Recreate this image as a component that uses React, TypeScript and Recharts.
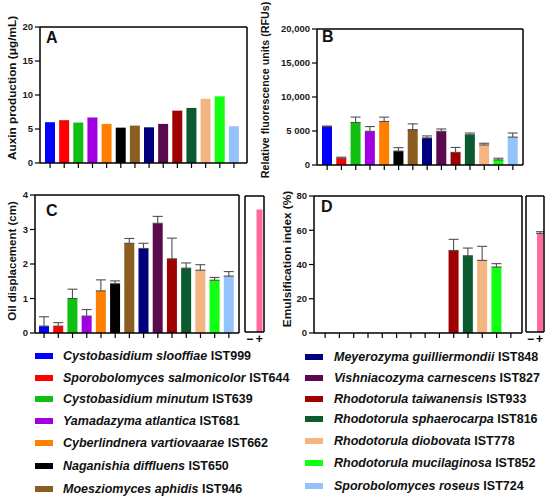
import React from 'react';
import { BarChart, Bar, XAxis, YAxis, Cell, ErrorBar } from 'recharts';

const species = [
  'Cystobasidium slooffiae',
  'Sporobolomyces salmonicolor',
  'Cystobasidium minutum',
  'Yamadazyma atlantica',
  'Cyberlindnera vartiovaarae',
  'Naganishia diffluens',
  'Moesziomyces aphidis',
  'Meyerozyma guilliermondii',
  'Vishniacozyma carnescens',
  'Rhodotorula taiwanensis',
  'Rhodotorula sphaerocarpa',
  'Rhodotorula diobovata',
  'Rhodotorula mucilaginosa',
  'Sporobolomyces roseus',
];
const ids = ['IST999', 'IST644', 'IST639', 'IST681', 'IST662', 'IST650', 'IST946', 'IST848', 'IST827', 'IST933', 'IST816', 'IST778', 'IST852', 'IST724'];
const colors = ['#0000FF', '#FF0000', '#10C010', '#A100E3', '#FF8000', '#000000', '#8C5D20', '#00007F', '#5C0A4E', '#A00000', '#0B5A30', '#F4B680', '#11FF11', '#94C2FA'];

const auxin = [6.0, 6.3, 5.95, 6.7, 5.75, 5.2, 5.5, 5.25, 5.75, 7.7, 8.1, 9.45, 9.8, 5.4];
const rfu = [5650, 1000, 6250, 4950, 6400, 2050, 5200, 3980, 4950, 1850, 4450, 2950, 750, 4100];
const rfuErr = [80, 150, 800, 700, 640, 500, 850, 300, 350, 730, 250, 250, 250, 600];
const oil = [0.2, 0.2, 1.0, 0.49, 1.22, 1.43, 2.6, 2.45, 3.18, 2.15, 1.88, 1.82, 1.53, 1.65];
const oilErr = [0.27, 0.1, 0.27, 0.19, 0.32, 0.08, 0.14, 0.15, 0.2, 0.6, 0.15, 0.16, 0.08, 0.13];
const emul = [0, 0, 0, 0, 0, 0, 0, 0, 0, 48.2, 45.1, 42.4, 38.5, 0];
const emulErr = [null, null, null, null, null, null, null, null, null, 6.5, 4.5, 8.2, 2.0, null];

const ctrlLabels = ['\u2212', '+'];
const oilCtrl = [0, 3.6];
const emulCtrl = [0, 58];
const emulCtrlErr = [null, 1];
const ctrlColor = '#FF6A98';

const ticksA = [0, 5, 10, 15, 20];
const ticksB = [0, 5000, 10000, 15000, 20000];
const tickLabelsB = ['0', '5 000', '10,000', '15,000', '20,000'];
const ticksC = [0, 1, 2, 3, 4];
const ticksD = [0, 20, 40, 60, 80];

const FONT = '"Liberation Sans", Arial, sans-serif';
const tickStyle = { fontSize: 9.5, fontWeight: 700, fill: '#1a1a1a', fontFamily: FONT };
const axisLine = { stroke: '#000', strokeWidth: 1.5 };
const tickLine = { stroke: '#000', strokeWidth: 1.2 };

type Row = { name: string; v: number; e: number | null };

const makeRows = (vals: number[], errs?: (number | null)[]): Row[] =>
  species.map((s, i) => ({ name: `${s} ${ids[i]}`, v: vals[i], e: errs ? errs[i] : null }));

const errKey = (d: Row) => (d.e == null ? null : [0, d.e]);

type PanelProps = {
  left: number; top: number; width: number; height: number;
  margin: { top: number; right: number; bottom: number; left: number };
  yWidth: number; xHeight: number;
  data: Row[]; domain: [number, number]; ticks: number[];
  tickFmt?: (v: number) => string;
  padding: { left: number; right: number };
  withErr: boolean;
};

// Box axes (top / right) are 1px thick; margins are reduced by 1 to keep the plot area in place.
function MainPanel(p: PanelProps) {
  const m = { ...p.margin, top: p.margin.top - 1, right: p.margin.right - 1 };
  return (
    <div style={{ position: 'absolute', left: p.left, top: p.top }}>
      <BarChart width={p.width} height={p.height} data={p.data} margin={m} barSize={10}>
        <XAxis
          dataKey="name"
          height={p.xHeight}
          interval={0}
          tickFormatter={() => ''}
          tickSize={5}
          axisLine={axisLine}
          tickLine={tickLine}
          padding={p.padding}
        />
        <XAxis xAxisId="top" dataKey="name" orientation="top" height={1} interval={0} tickFormatter={() => ''} tickLine={false} axisLine={axisLine} padding={p.padding} />
        <YAxis
          width={p.yWidth}
          domain={p.domain}
          ticks={p.ticks}
          allowDataOverflow
          tickSize={5}
          tickMargin={2}
          interval={0}
          tick={tickStyle}
          tickFormatter={p.tickFmt}
          axisLine={axisLine}
          tickLine={tickLine}
        />
        <YAxis yAxisId="right" orientation="right" width={1} domain={p.domain} ticks={p.ticks} tickFormatter={() => ''} tickLine={false} axisLine={axisLine} />
        <Bar dataKey="v" isAnimationActive={false}>
          {p.data.map((d, i) => (
            <Cell key={d.name} fill={colors[i]} />
          ))}
          {p.withErr && (
            <ErrorBar dataKey={errKey as any} width={5} stroke="#505050" strokeWidth={1.1} isAnimationActive={false} />
          )}
        </Bar>
      </BarChart>
    </div>
  );
}

type CtrlProps = {
  left: number; top: number; vals: number[]; errs?: (number | null)[]; domain: [number, number]; ticks: number[]; marginLeft: number;
};

function CtrlPanel(p: CtrlProps) {
  const data = ctrlLabels.map((n, i) => ({ name: n, v: p.vals[i], e: p.errs ? p.errs[i] : null }));
  return (
    <div style={{ position: 'absolute', left: p.left, top: p.top }}>
      <BarChart width={35} height={170} data={data} margin={{ top: 15, right: 5, bottom: 0, left: p.marginLeft - 1 }} barSize={6}>
        <XAxis
          dataKey="name"
          height={18}
          interval={0}
          tickSize={0}
          tickMargin={2}
          tickLine={false}
          axisLine={axisLine}
          tick={{ fontSize: 12, fontWeight: 700, fill: '#000', fontFamily: FONT }}
        />
        <XAxis xAxisId="top" dataKey="name" orientation="top" height={1} interval={0} tickFormatter={() => ''} tickLine={false} axisLine={axisLine} />
        <YAxis width={1} domain={p.domain} ticks={p.ticks} allowDataOverflow tickFormatter={() => ''} tickLine={false} axisLine={axisLine} />
        <YAxis yAxisId="right" orientation="right" width={1} domain={p.domain} ticks={p.ticks} tickFormatter={() => ''} tickLine={false} axisLine={axisLine} />
        <Bar dataKey="v" fill={ctrlColor} isAnimationActive={false}>
          {p.errs && (
            <ErrorBar dataKey={errKey as any} width={4} stroke="#505050" strokeWidth={1.1} isAnimationActive={false} />
          )}
        </Bar>
      </BarChart>
    </div>
  );
}

const legendLeftY = [356, 377.5, 399, 421, 443, 466, 489];
const legendRightY = [357, 378, 398.5, 419, 441, 463, 485.5];

function Legend() {
  return (
    <>
      {species.map((s, i) => {
        const isLeft = i < 7;
        const cy = isLeft ? legendLeftY[i] : legendRightY[i - 7];
        const sx = isLeft ? 35 : 305;
        const tx = isLeft ? 63 : 334;
        return (
          <React.Fragment key={s}>
            <div style={{ position: 'absolute', left: sx, top: cy - 3, width: 18, height: 6, background: colors[i] }} />
            <div
              style={{
                position: 'absolute', left: tx, top: cy - 8, height: 16, lineHeight: '16px',
                fontFamily: FONT, fontSize: 12.5, fontWeight: 700, color: '#111', whiteSpace: 'nowrap',
              }}
            >
              <i>{s}</i> {ids[i]}
            </div>
          </React.Fragment>
        );
      })}
    </>
  );
}

const titleStyle = { fontFamily: FONT, fontWeight: 700, fill: '#111' } as const;

function Titles() {
  const rot = (x: number, y: number) => `rotate(-90, ${x}, ${y})`;
  return (
    <svg width={550} height={503} style={{ position: 'absolute', left: 0, top: 0, pointerEvents: 'none' }}>
      <text x={12} y={88} transform={rot(12, 88)} textAnchor="middle" dominantBaseline="central" fontSize={11.8} style={titleStyle}>Auxin production (μg/mL)</text>
      <text x={265} y={90} transform={rot(265, 90)} textAnchor="middle" dominantBaseline="central" fontSize={10.7} style={titleStyle}>Relative fluorescence units (RFUs)</text>
      <text x={12} y={261} transform={rot(12, 261)} textAnchor="middle" dominantBaseline="central" fontSize={11.5} style={titleStyle}>Oil displacement (cm)</text>
      <text x={287} y={259} transform={rot(287, 259)} textAnchor="middle" dominantBaseline="central" fontSize={11.8} style={titleStyle}>Emulsification index (%)</text>
      <text x={46} y={43} fontSize={16} style={titleStyle}>A</text>
      <text x={322} y={42} fontSize={16} style={titleStyle}>B</text>
      <text x={46} y={216} fontSize={16} style={titleStyle}>C</text>
      <text x={321} y={212} fontSize={16} style={titleStyle}>D</text>
    </svg>
  );
}

export default function App() {
  return (
    <div style={{ position: 'absolute', left: 0, top: 0, width: 550, height: 503, background: '#fff', overflow: 'hidden' }}>
      <MainPanel
        left={0} top={0} width={260} height={175}
        margin={{ top: 27, right: 13, bottom: 0, left: 0 }}
        yWidth={40} xHeight={12}
        data={makeRows(auxin)} domain={[0, 20]} ticks={ticksA}
        padding={{ left: 3, right: 6 }} withErr={false}
      />
      <MainPanel
        left={260} top={0} width={270} height={177}
        margin={{ top: 29, right: 7, bottom: 0, left: 0 }}
        yWidth={57} xHeight={12}
        data={makeRows(rfu, rfuErr)} domain={[0, 20000]} ticks={ticksB}
        tickFmt={(v: number) => tickLabelsB[ticksB.indexOf(v)] ?? String(v)}
        padding={{ left: 3, right: 3 }} withErr
      />
      <MainPanel
        left={0} top={180} width={245} height={170}
        margin={{ top: 15, right: 6, bottom: 0, left: 0 }}
        yWidth={35} xHeight={17}
        data={makeRows(oil, oilErr)} domain={[0, 4]} ticks={ticksC}
        padding={{ left: 2, right: 3 }} withErr
      />
      <CtrlPanel left={235} top={180} vals={oilCtrl} domain={[0, 4]} ticks={ticksC} marginLeft={10} />
      <MainPanel
        left={270} top={180} width={256} height={170}
        margin={{ top: 16, right: 4, bottom: 0, left: 0 }}
        yWidth={44} xHeight={17}
        data={makeRows(emul, emulErr)} domain={[0, 80]} ticks={ticksD}
        padding={{ left: 4, right: 4 }} withErr
      />
      <CtrlPanel left={515} top={180} vals={emulCtrl} errs={emulCtrlErr} domain={[0, 80]} ticks={ticksD} marginLeft={11} />
      <Legend />
      <Titles />
    </div>
  );
}
